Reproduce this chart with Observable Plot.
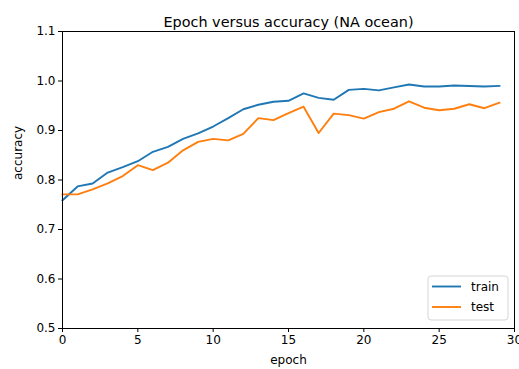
<!DOCTYPE html>
<html>
<head>
<meta charset="utf-8">
<script src="https://cdn.jsdelivr.net/npm/d3@7"></script>
<script src="https://cdn.jsdelivr.net/npm/@observablehq/plot@0.6"></script>
<style>
  html, body { margin: 0; padding: 0; background: #fff; }
  #chart svg { display: block; }
</style>
</head>
<body>
<div id="chart"></div>
<script>
const titleText = "Epoch versus accuracy (NA ocean)";
const xLabel = "epoch";
const yLabel = "accuracy";
const seriesNames = ["train", "test"];
const seriesColors = ["#1f77b4", "#ff7f0e"];
const xTicks = [0, 5, 10, 15, 20, 25, 30];
const yTicks = [0.5, 0.6, 0.7, 0.8, 0.9, 1.0, 1.1];
const epochs = [0,1,2,3,4,5,6,7,8,9,10,11,12,13,14,15,16,17,18,19,20,21,22,23,24,25,26,27,28,29];
const train = [0.759,0.787,0.793,0.815,0.826,0.838,0.857,0.867,0.883,0.894,0.908,0.925,0.943,0.952,0.958,0.960,0.975,0.966,0.962,0.982,0.984,0.981,0.987,0.993,0.989,0.989,0.991,0.990,0.989,0.990];
const test = [0.771,0.771,0.781,0.793,0.808,0.830,0.820,0.835,0.860,0.877,0.883,0.880,0.893,0.925,0.921,0.935,0.948,0.895,0.934,0.931,0.924,0.937,0.944,0.959,0.946,0.941,0.944,0.953,0.945,0.956];

const rows = [];
epochs.forEach((e, i) => {
  rows.push({epoch: e, acc: train[i], series: seriesNames[0]});
  rows.push({epoch: e, acc: test[i], series: seriesNames[1]});
});

const font = "DejaVu Sans, sans-serif";
const plot = Plot.plot({
  width: 519,
  height: 369,
  marginLeft: 62,
  marginRight: 5,
  marginTop: 31,
  marginBottom: 41,
  style: {fontFamily: font, fontSize: "12px", color: "#000", background: "#fff"},
  x: {domain: [0, 30]},
  y: {domain: [0.5, 1.1]},
  color: {domain: seriesNames, range: seriesColors},
  marks: [
    Plot.axisX({ticks: xTicks, tickSize: 4, tickPadding: 3, label: null, tickFormat: d3.format("d")}),
    Plot.axisY({ticks: yTicks, tickSize: 4, tickPadding: 3, label: null, tickFormat: d3.format(".1f")}),
    Plot.line(rows, {x: "epoch", y: "acc", z: "series", stroke: "series", strokeWidth: 1.9, strokeLinejoin: "round", strokeLinecap: "square"}),
    Plot.frame({stroke: "#000", strokeWidth: 1}),
    Plot.text([titleText], {frameAnchor: "top", dy: -15, fontSize: 14.4, fill: "#000"}),
    Plot.text([xLabel], {frameAnchor: "bottom", dy: 35, fontSize: 12, fill: "#000"}),
    Plot.text([yLabel], {frameAnchor: "left", dx: -44, rotate: -90, fontSize: 12, fill: "#000"})
  ]
});
document.getElementById("chart").appendChild(plot);

// legend (matplotlib style, lower right)
const svg = d3.select(plot);
const lg = svg.append("g").attr("transform", "translate(428,276)");
lg.append("rect").attr("x", 0).attr("y", 0).attr("width", 80).attr("height", 44)
  .attr("rx", 3).attr("fill", "#fff").attr("fill-opacity", 0.8).attr("stroke", "#d5d5d5");
seriesNames.forEach((name, i) => {
  const yy = 10.5 + i * 20.5;
  lg.append("line").attr("x1", 4).attr("x2", 33).attr("y1", yy).attr("y2", yy)
    .attr("stroke", seriesColors[i]).attr("stroke-width", 1.9);
  lg.append("text").attr("x", 43).attr("y", yy).attr("dy", "0.35em")
    .attr("text-anchor", "start")
    .attr("font-family", font).attr("font-size", 12).attr("fill", "#000").text(name);
});
</script>
</body>
</html>
